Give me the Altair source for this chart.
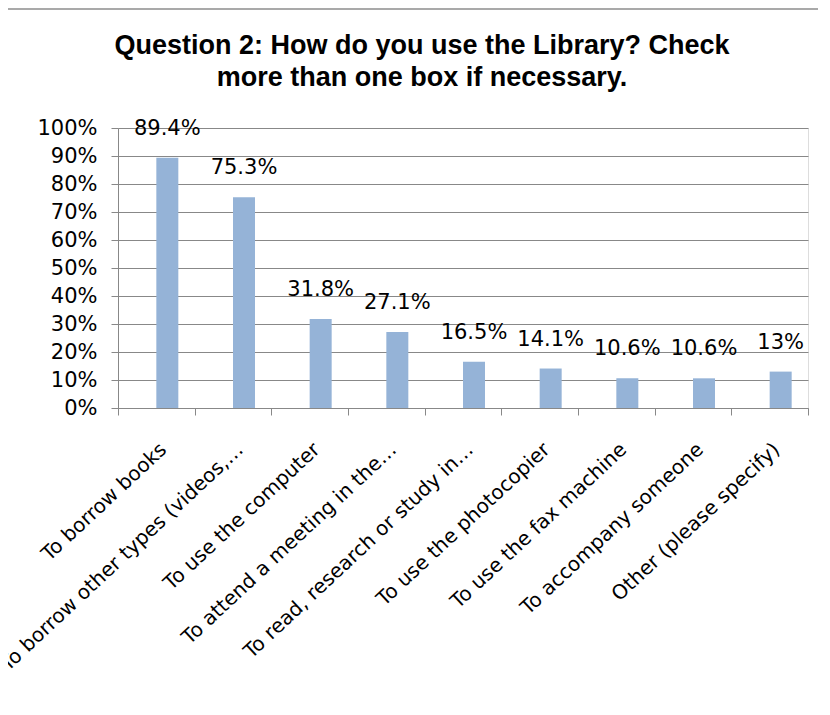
import altair as alt
import pandas as pd

categories = [
    "To borrow books",
    "To borrow other types (videos,…",
    "To use the computer",
    "To attend a meeting in the…",
    "To read, research or study in…",
    "To use the photocopier",
    "To use the fax machine",
    "To accompany someone",
    "Other (please specify)",
]
values = [0.894, 0.753, 0.318, 0.271, 0.165, 0.141, 0.106, 0.106, 0.13]
value_labels = ["89.4%", "75.3%", "31.8%", "27.1%", "16.5%", "14.1%", "10.6%", "10.6%", "13%"]
title_lines = ["Question 2: How do you use the Library? Check", "more than one box if necessary."]

df = pd.DataFrame({"cat": categories, "val": values, "lab": value_labels})

LABEL_FONT = "DejaVu Sans"

x = alt.X(
    "cat:N",
    sort=categories,
    title=None,
    scale=alt.Scale(paddingInner=0, paddingOuter=0),
    axis=alt.Axis(
        labelAngle=-43,
        labelFontSize=20,
        labelFont=LABEL_FONT,
        labelColor="#000000",
        labelPadding=24,
        labelLimit=400,
        tickBand="extent",
        tickSize=7,
        tickColor="#888888",
        domainColor="#888888",
        grid=False,
    ),
)
y = alt.Y(
    "val:Q",
    title=None,
    scale=alt.Scale(domain=[0, 1]),
    axis=alt.Axis(
        format=".0%",
        values=[i / 10 for i in range(11)],
        labelFontSize=21,
        labelFont=LABEL_FONT,
        labelColor="#000000",
        labelPadding=14,
        tickSize=7,
        tickColor="#888888",
        domainColor="#888888",
        gridColor="#888888",
        gridWidth=1,
    ),
)

bars = alt.Chart(df).mark_bar(width=22, xOffset=11, color="#95B3D7").encode(x=x, y=y)
texts = alt.Chart(df).mark_text(
    dx=11, dy=-19, baseline="bottom", fontSize=21, font=LABEL_FONT, color="#000000"
).encode(x=x, y=y, text="lab:N")

single = alt.Data(values=[{}])
left_line = alt.Chart(single).mark_rule(color="#8c8c8c", strokeWidth=1.5).encode(
    x=alt.value(-115), y=alt.value(-119), y2=alt.value(600)
)
top_line = alt.Chart(single).mark_rule(color="#8c8c8c", strokeWidth=1.5).encode(
    x=alt.value(-115), x2=alt.value(720), y=alt.value(-119)
)
title1 = alt.Chart(single).mark_text(
    font="Liberation Sans", fontSize=27, fontWeight="bold", color="#000000",
    align="center", baseline="middle",
).encode(x=alt.value(304), y=alt.value(-82), text=alt.value(title_lines[0]))
title2 = alt.Chart(single).mark_text(
    font="Liberation Sans", fontSize=27, fontWeight="bold", color="#000000",
    align="center", baseline="middle",
).encode(x=alt.value(304), y=alt.value(-50), text=alt.value(title_lines[1]))

chart = (
    alt.layer(bars, texts, left_line, top_line, title1, title2)
    .properties(
        width=690,
        height=280,
        padding={"left": 110, "top": 120, "right": 10, "bottom": 290},
        autosize=alt.AutoSizeParams(type="none"),
    )
    .configure_view(strokeWidth=0)
    .configure(background="white")
)

chart.save("out.html", embed_options={"renderer": "svg", "actions": False})
